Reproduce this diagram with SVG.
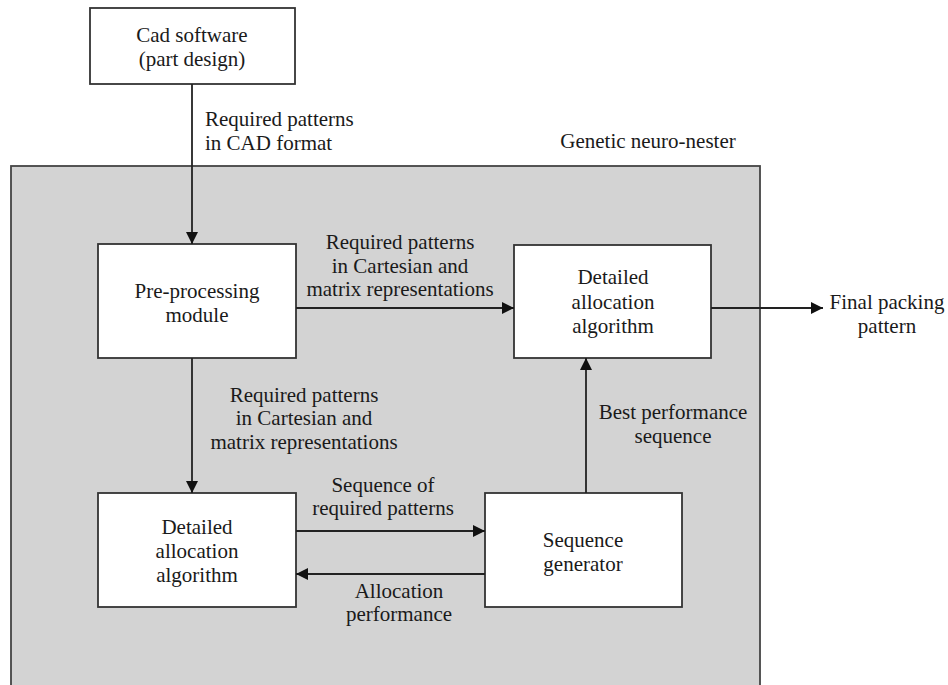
<svg xmlns="http://www.w3.org/2000/svg" width="948" height="685" viewBox="0 0 948 685">
<style>
.box{fill:#fff;stroke:#333;stroke-width:1.8}
.cont{fill:#d3d3d3;stroke:#444;stroke-width:1.8}
.t{font-family:"Liberation Serif","Times New Roman",serif;font-size:21px;fill:#1a1a1a}
.c{text-anchor:middle}
.ln{stroke:#222;stroke-width:1.8;fill:none;marker-end:url(#ah)}
</style>
<defs>
<marker id="ah" viewBox="0 0 12 12" refX="12" refY="6" markerWidth="12" markerHeight="12" markerUnits="userSpaceOnUse" orient="auto">
<path d="M0,0 L12,6 L0,12 Z" fill="#111"/>
</marker>
</defs>
<rect width="948" height="685" fill="#fff"/>
<g id="container">
<rect class="cont" x="11" y="166" width="749" height="530"/>
<text class="t c" x="648" y="148">Genetic neuro-nester</text>
</g>
<g id="cad">
<rect class="box" x="90" y="8" width="205" height="76"/>
<text class="t c" x="192" y="42">Cad software</text>
<text class="t c" x="192" y="66">(part design)</text>
</g>
<g id="preprocessing">
<rect class="box" x="98" y="244" width="198" height="114"/>
<text class="t c" x="197" y="298">Pre-processing</text>
<text class="t c" x="197" y="322">module</text>
</g>
<g id="detailed-top">
<rect class="box" x="514" y="245" width="197" height="113"/>
<text class="t c" x="613" y="284">Detailed</text>
<text class="t c" x="613" y="309">allocation</text>
<text class="t c" x="613" y="333">algorithm</text>
</g>
<g id="detailed-bottom">
<rect class="box" x="98" y="493" width="198" height="114"/>
<text class="t c" x="197" y="534">Detailed</text>
<text class="t c" x="197" y="558">allocation</text>
<text class="t c" x="197" y="582">algorithm</text>
</g>
<g id="seqgen">
<rect class="box" x="485" y="493" width="197" height="114"/>
<text class="t c" x="583" y="547">Sequence</text>
<text class="t c" x="583" y="571">generator</text>
</g>
<g id="output">
<text class="t c" x="887" y="309">Final packing</text>
<text class="t c" x="887" y="333">pattern</text>
</g>
<g id="connectors">
<line class="ln" x1="192" y1="84" x2="192" y2="244"/>
<line class="ln" x1="296" y1="308" x2="514" y2="308"/>
<line class="ln" x1="711" y1="308" x2="823" y2="308"/>
<line class="ln" x1="192" y1="358" x2="192" y2="493"/>
<line class="ln" x1="296" y1="531" x2="485" y2="531"/>
<line class="ln" x1="485" y1="574" x2="296" y2="574"/>
<line class="ln" x1="586" y1="493" x2="586" y2="358"/>
<text class="t" x="205" y="126">Required patterns</text>
<text class="t" x="205" y="150">in CAD format</text>
<text class="t c" x="400" y="249">Required patterns</text>
<text class="t c" x="400" y="273">in Cartesian and</text>
<text class="t c" x="400" y="296">matrix representations</text>
<text class="t c" x="304" y="402">Required patterns</text>
<text class="t c" x="304" y="425">in Cartesian and</text>
<text class="t c" x="304" y="449">matrix representations</text>
<text class="t c" x="673" y="419">Best performance</text>
<text class="t c" x="673" y="443">sequence</text>
<text class="t c" x="383" y="492">Sequence of</text>
<text class="t c" x="383" y="515">required patterns</text>
<text class="t c" x="399" y="598">Allocation</text>
<text class="t c" x="399" y="621">performance</text>
</g>
</svg>
